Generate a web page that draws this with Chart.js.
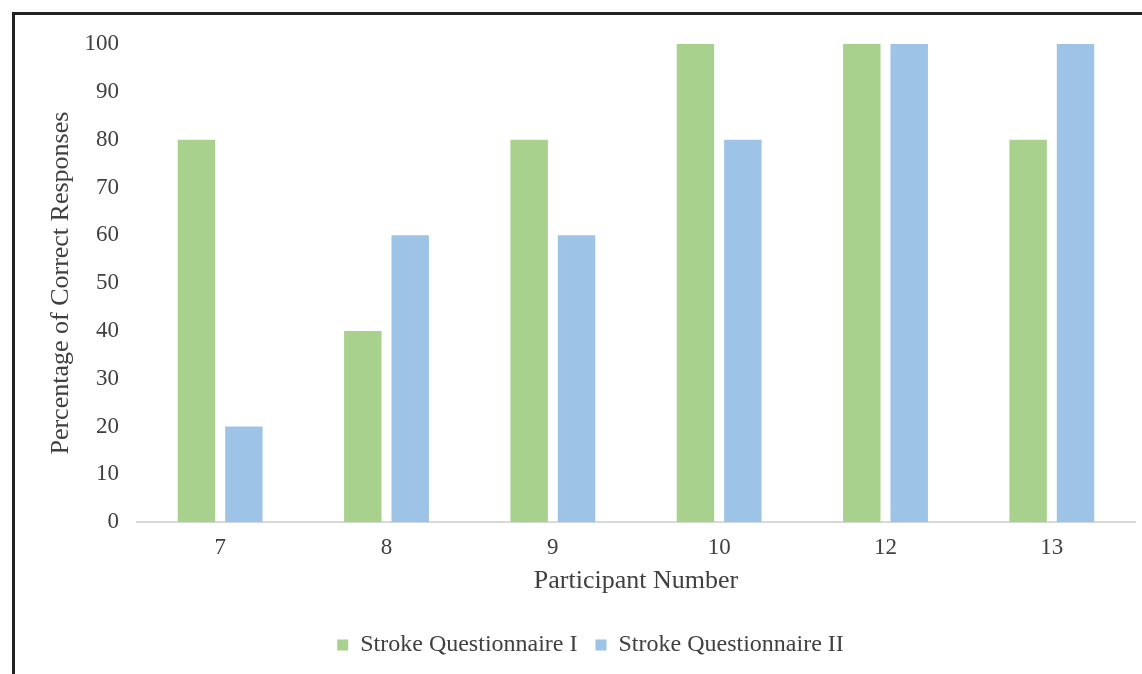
<!DOCTYPE html>
<html>
<head>
<meta charset="utf-8">
<script src="https://cdn.jsdelivr.net/npm/chart.js@4"></script>
<style>
  html, body { margin: 0; padding: 0; background: #fff; }
  #wrap { position: relative; width: 1142px; height: 674px; overflow: hidden; }
  #frame { position: absolute; left: 12px; top: 12px; right: -10px; bottom: -10px;
           border-top: 3px solid #222; border-left: 3px solid #222; }
  canvas { position: absolute; left: 0; top: 0; }
</style>
</head>
<body>
<div id="wrap">
  <div id="frame"></div>
  <canvas id="chart" width="1142" height="674"></canvas>
</div>
<script>
const participants = ['7', '8', '9', '10', '12', '13'];
const questionnaireI = [80, 40, 80, 100, 100, 80];
const questionnaireII = [20, 60, 60, 80, 100, 100];
const seriesNames = ['Stroke Questionnaire I', 'Stroke Questionnaire II'];

const serif = 'Liberation Serif, Times New Roman, serif';
const textColor = '#404040';

new Chart(document.getElementById('chart'), {
  type: 'bar',
  data: {
    labels: participants,
    datasets: [
      { label: seriesNames[0], data: questionnaireI, backgroundColor: '#A9D18E',
        categoryPercentage: 0.57, barPercentage: 0.79 },
      { label: seriesNames[1], data: questionnaireII, backgroundColor: '#9DC3E6',
        categoryPercentage: 0.57, barPercentage: 0.79 }
    ]
  },
  options: {
    responsive: false,
    animation: false,
    layout: { padding: { left: 46, right: 7, top: 44, bottom: 7 } },
    plugins: {
      tooltip: { enabled: false },
      legend: {
        position: 'bottom',
        labels: {
          color: textColor,
          font: { family: serif, size: 24 },
          boxWidth: 11, boxHeight: 11, padding: 18
        }
      }
    },
    scales: {
      x: {
        grid: { display: false, drawTicks: false },
        border: { color: '#d9d9d9', width: 2 },
        ticks: { color: textColor, font: { family: serif, size: 23 }, padding: 12 },
        title: { display: true, text: 'Participant Number', color: textColor,
                 font: { family: serif, size: 26 }, padding: { top: -8, bottom: 18 } }
      },
      y: {
        min: 0, max: 100,
        afterFit: s => { s.width = 91; },
        grid: { display: false, drawTicks: false },
        border: { display: false },
        ticks: { stepSize: 10, color: textColor, font: { family: serif, size: 23 }, padding: 18 },
        title: { display: true, text: 'Percentage of Correct Responses', color: textColor,
                 font: { family: serif, size: 26 }, padding: 0 }
      }
    }
  }
});
</script>
</body>
</html>
